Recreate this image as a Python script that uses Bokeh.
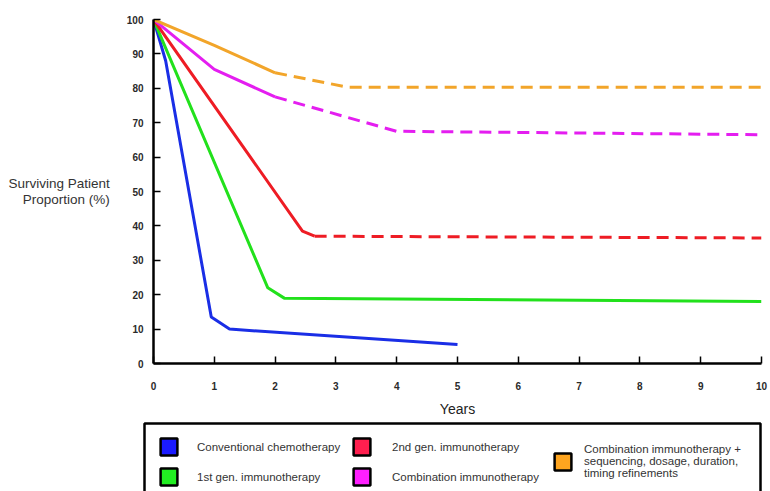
from bokeh.plotting import figure
from bokeh.models import Legend, LegendItem, FixedTicker, BoxAnnotation
from bokeh.embed import file_html
from bokeh.resources import INLINE

# ---- data ----
x_ticks = [0, 1, 2, 3, 4, 5, 6, 7, 8, 9, 10]
y_ticks = [0, 10, 20, 30, 40, 50, 60, 70, 80, 90, 100]

chemo_x = [0, 0.2, 0.95, 1.25, 5]
chemo_y = [100, 88, 13.5, 10, 5.5]

gen1_x = [0, 1.88, 2.15, 10]
gen1_y = [100, 22, 19, 18]

gen2_x = [0, 2.45, 2.65]
gen2_y = [100, 38.5, 37]
gen2_dash_x = [2.65, 10]
gen2_dash_y = [37, 36.5]

combo_x = [0, 1.0, 2.0]
combo_y = [100, 85.5, 77.5]
combo_dash_x = [2.0, 4.0, 10]
combo_dash_y = [77.5, 67.5, 66.5]

refined_x = [0, 1.0, 2.0]
refined_y = [100, 92.5, 84.5]
refined_dash_x = [2.0, 3.2, 10]
refined_dash_y = [84.5, 80.3, 80.3]

labels = ["Conventional chemotherapy", "1st gen. immunotherapy",
          "2nd gen. immunotherapy", "Combination immunotherapy",
          "Combination immunotherapy +\nsequencing, dosage, duration,\ntiming refinements"]
line_colors = ["#1a2ee6", "#22e11c", "#ee1c24", "#e41ef0", "#f2a52a"]
swatch_colors = ["#1b1bff", "#22ee22", "#ff1f4f", "#ff1fff", "#ffa51f"]

font = "Liberation Sans"

p = figure(width=770, height=420, x_range=(0, 10), y_range=(0, 100),
           output_backend="svg", toolbar_location=None,
           min_border_left=153, min_border_right=9, min_border_top=19,
           min_border_bottom=57)
p.grid.visible = False
p.outline_line_color = None

lw = 3
dash = "12 7"
p.line(chemo_x, chemo_y, line_color=line_colors[0], line_width=lw)
p.line(gen1_x, gen1_y, line_color=line_colors[1], line_width=lw)
p.line(gen2_x, gen2_y, line_color=line_colors[2], line_width=lw)
p.line(gen2_dash_x, gen2_dash_y, line_color=line_colors[2], line_width=lw, line_dash=dash)
p.line(combo_x, combo_y, line_color=line_colors[3], line_width=lw)
p.line(combo_dash_x, combo_dash_y, line_color=line_colors[3], line_width=lw, line_dash=dash)
p.line(refined_x, refined_y, line_color=line_colors[4], line_width=lw)
p.line(refined_dash_x, refined_dash_y, line_color=line_colors[4], line_width=lw, line_dash=dash)

for ax in (p.xaxis, p.yaxis):
    ax.axis_line_width = 2.5
    ax.axis_line_color = "black"
    ax.major_tick_in = 7
    ax.major_tick_out = 0
    ax.minor_tick_line_color = None
    ax.major_tick_line_width = 1.5
    ax.major_label_text_font = font
    ax.major_label_text_font_size = "10px"
    ax.major_label_text_color = "#2a2a2a"
    ax.major_label_text_font_style = "bold"

p.xaxis.ticker = FixedTicker(ticks=x_ticks)
p.yaxis.ticker = FixedTicker(ticks=y_ticks)
p.xaxis.major_label_standoff = 18
p.yaxis.major_label_standoff = 10

p.xaxis.axis_label = "Years"
p.xaxis.axis_label_text_font = font
p.xaxis.axis_label_text_font_style = "normal"
p.xaxis.axis_label_text_font_size = "14px"
p.xaxis.axis_label_text_color = "#222222"
p.xaxis.axis_label_standoff = 8

p.yaxis.axis_label = "Surviving Patient\nProportion (%)"
p.yaxis.axis_label_orientation = "horizontal"
p.yaxis.axis_label_text_font = font
p.yaxis.axis_label_text_font_style = "normal"
p.yaxis.axis_label_text_font_size = "13.5px"
p.yaxis.axis_label_text_line_height = 1.05
p.yaxis.axis_label_text_color = "#333333"
p.yaxis.axis_label_standoff = 14
p.yaxis.axis_label_text_align = "center"

# ---- legend panel (separate root so its frame is not aligned) ----
lg = figure(width=770, height=71, x_range=(0, 1), y_range=(0, 1),
            output_backend="svg", toolbar_location=None,
            min_border=0, x_axis_location=None, y_axis_location=None)
lg.grid.visible = False
lg.outline_line_color = None

nan = float("nan")
sw = []
for c in swatch_colors:
    r = lg.quad(left=[nan], right=[nan], top=[nan], bottom=[nan], fill_color=c,
                line_color="black", line_width=2.5)
    sw.append(r)

box = BoxAnnotation(left=144, right=760, bottom=-20, top=68,
                    left_units="screen", right_units="screen",
                    bottom_units="screen", top_units="screen",
                    fill_alpha=0, line_color="black", line_alpha=1,
                    line_width=2.5, editable=False)
lg.add_layout(box)

common = dict(border_line_color=None, background_fill_alpha=0,
              label_text_font=font, label_text_font_size="11.5px",
              label_text_color="#333333",
              glyph_width=21, glyph_height=21, padding=0, margin=0,
              spacing=9)

legend_c1 = Legend(items=[LegendItem(label=labels[0], renderers=[sw[0]]),
                          LegendItem(label=labels[1], renderers=[sw[1]])],
                   location=(158, 4), label_standoff=18, **common)
legend_c2 = Legend(items=[LegendItem(label=labels[2], renderers=[sw[2]]),
                          LegendItem(label=labels[3], renderers=[sw[3]])],
                   location=(351, 4), label_standoff=20, **common)
legend_c3 = Legend(items=[LegendItem(label=labels[4], renderers=[sw[4]])],
                   location=(552, 12), label_standoff=11, **common)
for lgd in (legend_c1, legend_c2, legend_c3):
    lg.add_layout(lgd, "center")

open("out.html", "w").write(file_html([p, lg], INLINE))
